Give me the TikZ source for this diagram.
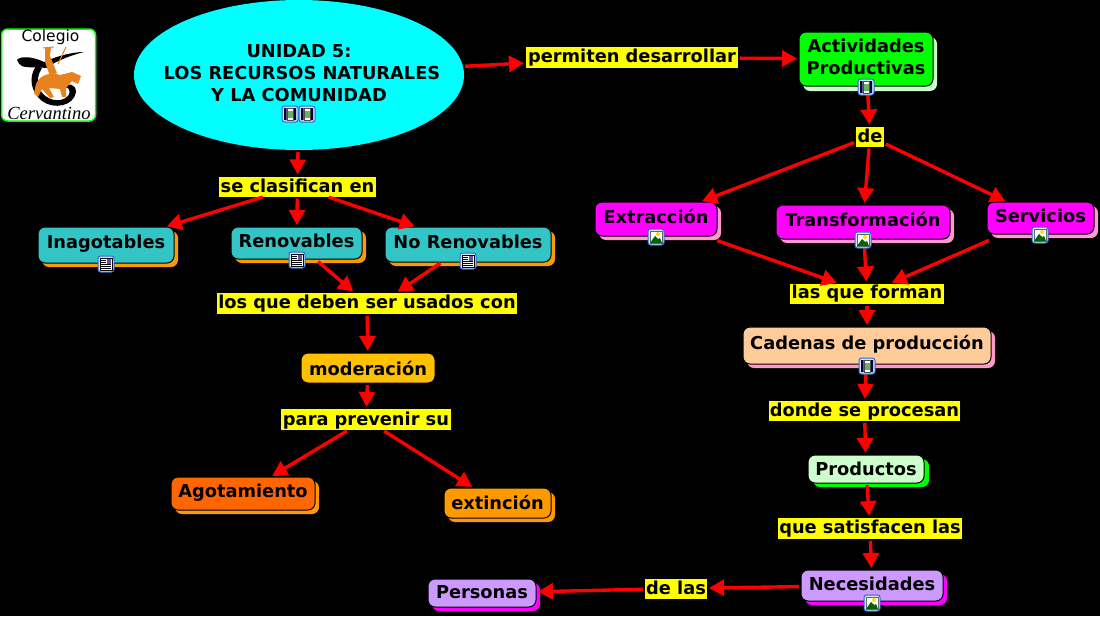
\documentclass[tikz,border=0pt]{standalone}
\usepackage{fontspec}
\setmainfont{DejaVu Sans}
\usetikzlibrary{arrows.meta,shadows,calc,shapes.geometric}
\definecolor{tealbox}{HTML}{33C5C5}
\definecolor{orshadow}{HTML}{FF9900}
\definecolor{pinksh}{HTML}{FF99CC}
\definecolor{mintsh}{HTML}{CCFFCC}
\definecolor{peach}{HTML}{FFCC99}
\definecolor{violetbox}{HTML}{CC99FF}
\definecolor{iconblue}{HTML}{3366CC}
\definecolor{iconbg}{HTML}{CFE6FF}
\definecolor{horse}{HTML}{E8821E}
\definecolor{purecyan}{HTML}{00FFFF}
\definecolor{puremag}{HTML}{FF00FF}
\definecolor{pureyel}{HTML}{FFFF00}
\definecolor{puregrn}{HTML}{00FF00}
\definecolor{purered}{HTML}{FF0000}
\definecolor{amberbox}{HTML}{FFC000}
\definecolor{redorbox}{HTML}{FF6600}
\definecolor{logoshadow}{HTML}{300030}
\tikzset{
  x=1pt,y=-1pt,
  every node/.style={font=\fontsize{17.8}{22}\selectfont\bfseries,text=black,inner sep=0pt,outer sep=0pt},
  concept/.style={draw=black,line width=1pt,rounded corners=7pt,align=center},
  linker/.style={fill=pureyel,align=center},
  tealc/.style={concept,fill=tealbox,drop shadow={shadow xshift=4pt,shadow yshift=-4pt,fill=orshadow,opacity=1}},
  magc/.style={concept,fill=puremag,drop shadow={shadow xshift=4pt,shadow yshift=-4pt,fill=pinksh,opacity=1}},
  grnc/.style={concept,fill=puregrn,drop shadow={shadow xshift=4pt,shadow yshift=-5pt,fill=mintsh,opacity=1}},
  peachc/.style={concept,fill=peach,drop shadow={shadow xshift=4pt,shadow yshift=-4pt,fill=pinksh,opacity=1}},
  mintc/.style={concept,fill=mintsh,drop shadow={shadow xshift=5pt,shadow yshift=-4pt,fill=puregrn,opacity=1}},
  violc/.style={concept,fill=violetbox,drop shadow={shadow xshift=4pt,shadow yshift=-4pt,fill=puremag,opacity=1}},
  amberc/.style={concept,fill=amberbox},
  redorc/.style={concept,fill=redorbox,drop shadow={shadow xshift=4pt,shadow yshift=-4pt,fill=orshadow,opacity=1}},
  oranc/.style={concept,fill=orshadow,drop shadow={shadow xshift=4pt,shadow yshift=-4pt,fill=orshadow,opacity=1}},
  arr/.style={draw=purered,line width=3.4pt,-{Triangle[length=15pt,width=16pt]},shorten <=2pt,shorten >=2pt},
  farstart/.style={shorten <=#1},
  iconframe/.style={draw=iconblue,line width=1pt,fill=iconbg,rounded corners=2.5pt},
}
% name, x1, y1, x2, y2, style, baseline y, text
\newcommand{\cbox}[8]{%
  \pgfmathsetmacro{\bw}{#4-#2}\pgfmathsetmacro{\bh}{#5-#3}%
  \pgfmathsetmacro{\bx}{(#2+#4)/2}\pgfmathsetmacro{\by}{(#3+#5)/2}%
  \pgfmathsetmacro{\bb}{#7-\by}%
  \node[#6,minimum width=\bw pt,minimum height=\bh pt,text height={10+\bb pt},text depth={10-\bb pt}] (#1) at (\bx,\by) {#8};}
\newcommand{\filmicon}[2]{\begin{scope}[shift={(#1,#2)}]
  \path[iconframe] (-8,-8) rectangle (8,8);
  \fill[white] (-6,-6) rectangle (6,6);
  \fill[black!80!blue] (-6,-6) rectangle (-3.5,6) (3.5,-6) rectangle (6,6);
  \fill[green!50!black!60!white] (-3,-3.5) rectangle (3,3.5);
  \draw[black!70,line width=.6pt] (-3,-6) rectangle (3,6);
\end{scope}}
\newcommand{\pageicon}[2]{\begin{scope}[shift={(#1,#2)}]
  \path[iconframe] (-8,-8) rectangle (8,8);
  \fill[white,draw=black,line width=.6pt] (-6,-6) rectangle (6,6);
  \fill[gray!70!blue] (.5,-5) rectangle (5,-.5);
  \draw[black,line width=.8pt] (-5,-4)--(-.5,-4) (-5,-2)--(-.5,-2) (-5,0)--(5,0) (-5,2)--(5,2) (-5,4)--(5,4);
\end{scope}}
\newcommand{\imgicon}[2]{\begin{scope}[shift={(#1,#2)}]
  \path[iconframe] (-8,-8) rectangle (8,8);
  \fill[white,draw=black!60,line width=.5pt] (-6,-6) rectangle (6,6);
  \fill[yellow!80!orange] (2,-3) circle (2pt);
  \fill[green!40!black] (-6,6) -- (-1,-1) -- (2,2) -- (4,1) -- (6,6) -- cycle;
\end{scope}}
\begin{document}
\begin{tikzpicture}
\useasboundingbox (0,0) rectangle (1100,616);
\fill[black] (0,0) rectangle (1100,616);
% logo
\fill[logoshadow,rounded corners=6pt] (5,32) rectangle (98,123);
\draw[puregrn,line width=1.5pt,fill=white,rounded corners=6pt] (1.5,29) rectangle (95.5,121);
\node[font=\fontsize{15.5}{18}\selectfont,text=black] (logotop) at (50.5,37) {Colegio};
\fill[black] (17,60) .. controls (20,56) and (32,56) .. (44,62) .. controls (52,58) and (70,52) .. (84,52) .. controls (72,55) and (58,60) .. (46,68) .. controls (38,67) and (26,68) .. (22,66) .. controls (20,65) and (18,63) .. (17,60) -- cycle;
\fill[black] (36,66) .. controls (28,78) and (31,92) .. (42,101) .. controls (54,110) and (74,106) .. (76,92) .. controls (76,84) and (68,82) .. (62,87) .. controls (68,86) and (72,90) .. (68,96) .. controls (60,104) and (46,100) .. (40,90) .. controls (36,82) and (38,74) .. (42,68) -- cycle;
\fill[horse] (36,84) .. controls (40,74) and (52,72) .. (60,75) -- (72,72) -- (81,76) -- (78,84) -- (72,81) -- (66,88) -- (66,97) -- (62,97) -- (60,89) -- (49,88) -- (54,97) -- (50,98) -- (42,89) -- (38,97) -- (34,93) -- cycle;
\fill[horse] (45,47) -- (51,47) -- (50,56) -- (57,73) -- (50,76) -- (45,62) -- cycle;
\draw[horse,line width=1pt] (43,48) -- (54,47) (58,64) -- (66,47);
\node[font=\itshape\mdseries\fontsize{18.5}{20}\selectfont,text=black,inner sep=0pt] (logobottom) at (49,113) {\fontspec{Liberation Serif}[Scale=1]Cervantino};
% central ellipse
\node[ellipse,fill=purecyan,minimum width=330pt,minimum height=150pt,
  label={[align=center,yshift=2pt,xshift=3pt]center:\hspace*{-6pt}UNIDAD 5:\\LOS RECURSOS NATURALES\\\hspace*{-6pt}Y LA COMUNIDAD}] (main) at (299,75) {};
% concepts
\cbox{ina}{38}{227}{174}{263}{tealc}{248}{Inagotables}
\cbox{ren}{231}{227}{362}{259}{tealc}{247}{Renovables}
\cbox{nor}{385}{227}{551}{262}{tealc}{248}{No Renovables}
\cbox{mod}{301}{353}{435}{383}{amberc}{375}{moderación}
\cbox{ago}{171}{477}{315}{510}{redorc}{497}{Agotamiento}
\cbox{ext}{444}{488}{551}{518}{oranc}{509}{extinción}
\node[grnc,minimum width=134pt,minimum height=54pt,
  label={[align=center,yshift=2pt]center:Actividades\\Productivas}] (act) at (866,59) {};
\cbox{ext2}{595}{202}{717}{236}{magc}{223}{Extracción}
\cbox{tra}{776}{205}{950}{239}{magc}{226}{Transformación}
\cbox{ser}{987}{202}{1094}{234}{magc}{222}{Servicios}
\cbox{cad}{743}{327}{991}{364}{peachc}{349}{Cadenas de producción}
\cbox{pro}{808}{455}{924}{483}{mintc}{475}{Productos}
\cbox{nec}{801}{570}{943}{601}{violc}{590}{Necesidades}
\cbox{per}{428}{579}{536}{607}{violc}{598}{Personas}
% linking phrases
\cbox{lclas}{219}{177}{376}{196}{linker}{192}{se clasifican en}
\cbox{lusa}{217}{293}{517}{314}{linker}{308}{los que deben ser usados con}
\cbox{lpre}{281}{409}{451}{430}{linker}{425}{para prevenir su}
\cbox{lper}{526}{47}{738}{68}{linker}{62}{permiten desarrollar}
\cbox{lde}{856}{128}{884}{145}{linker}{142}{de}
\cbox{lfor}{790}{284}{944}{303}{linker}{298}{las que forman}
\cbox{ldon}{769}{401}{960}{421}{linker}{416}{donde se procesan}
\cbox{lsat}{778}{518}{962}{539}{linker}{533}{que satisfacen las}
\cbox{ldel}{645}{580}{707}{597}{linker}{594}{de las}
% connectors
\draw[arr] (main) -- (lper);
\draw[arr] (lper) -- (act);
\draw[arr] (act) -- (lde);
\draw[arr] (lde) -- (ext2);
\draw[arr] (lde) -- (tra);
\draw[arr] (lde) -- (ser);
\draw[arr,farstart=14pt] (ext2) -- (lfor);
\draw[arr,farstart=8pt] (tra) -- (lfor);
\draw[arr,farstart=16pt] (ser) -- (lfor);
\draw[arr] (lfor) -- (cad);
\draw[arr,farstart=8pt] (cad) -- (ldon);
\draw[arr] (ldon) -- (pro);
\draw[arr] (pro) -- (lsat);
\draw[arr] (lsat) -- (nec);
\draw[arr] (nec) -- (ldel);
\draw[arr] (ldel) -- (per);
\draw[arr] (main) -- (lclas);
\draw[arr] (lclas) -- (ina);
\draw[arr] (lclas) -- (ren);
\draw[arr] (lclas) -- (nor);
\draw[arr,farstart=4pt] (ren) -- (lusa);
\draw[arr] (nor) -- ($(lusa.north)+(29,0)$);
\draw[arr] (lusa) -- (mod);
\draw[arr] (mod) -- (lpre);
\draw[arr] (lpre) -- (ago);
\draw[arr] (lpre) -- (ext);
% resource icons
\filmicon{290}{114}\filmicon{307}{114}
\filmicon{866}{87}\filmicon{867}{366}
\pageicon{106}{264}\pageicon{297}{260}\pageicon{468}{261}
\imgicon{656}{237}\imgicon{863}{240}\imgicon{1040}{235}\imgicon{872}{603}
\end{tikzpicture}
\end{document}
